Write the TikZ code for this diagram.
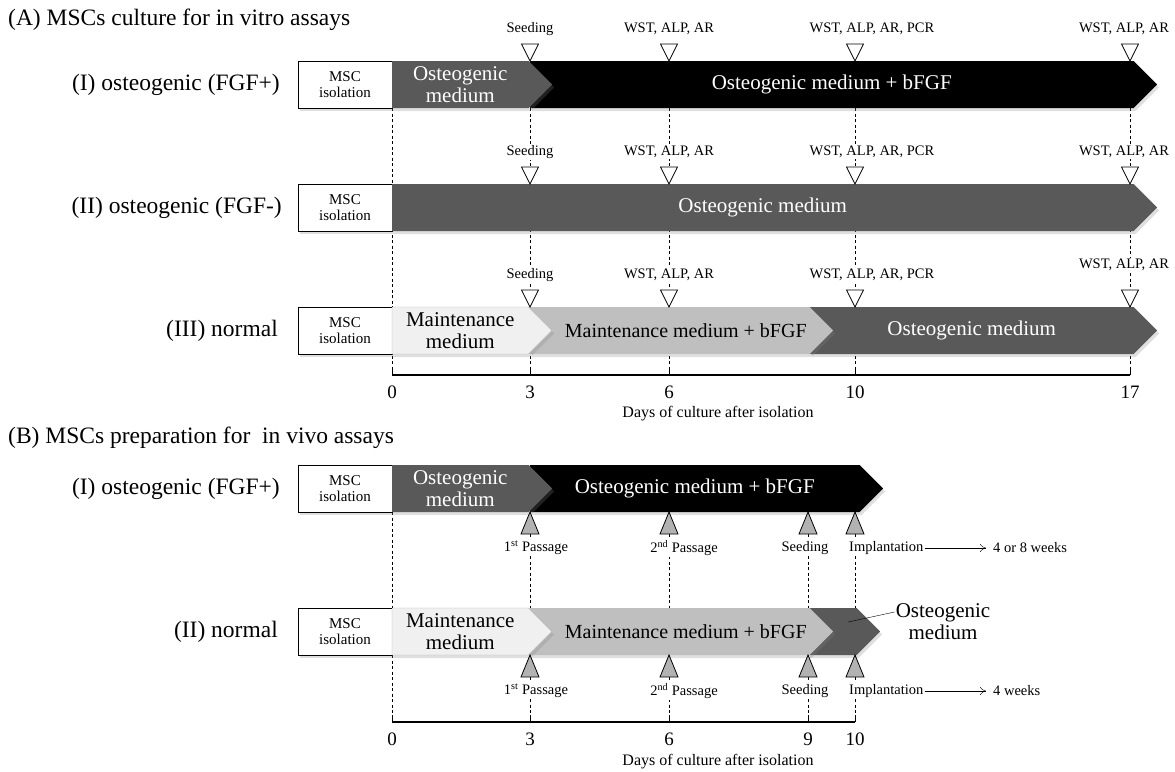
\documentclass[tikz,border=0pt]{standalone}
\usepackage{fontspec}
\setmainfont{Liberation Serif}
\usetikzlibrary{calc,positioning,shapes.symbols,shadows,arrows.meta}
\definecolor{darkbar}{RGB}{89,89,89}
\definecolor{midbar}{RGB}{191,191,191}
\definecolor{lightbar}{RGB}{240,240,240}
\definecolor{markgray}{RGB}{178,178,178}
\tikzset{
  heading/.style={anchor=west,inner sep=0pt,font=\fontsize{23.5}{27}\selectfont},
  rowname/.style={anchor=east,inner sep=0pt,font=\fontsize{23.5}{27}\selectfont},
  soft/.style={drop shadow={opacity=0.25,shadow xshift=2pt,shadow yshift=-3pt}},
  msc/.style={draw,fill=white,soft,minimum width=94pt,minimum height=47pt,inner sep=0pt,align=center,font=\fontsize{15}{16}\selectfont},
  bar/.style={signal,signal to=east,signal pointer angle=90,soft,minimum height=47pt,inner sep=0pt,align=center,font=\fontsize{21}{22}\selectfont},
  bartext/.style={inner sep=0pt,font=\fontsize{20}{22}\selectfont},
  event/.style={fill=white,inner sep=1pt,font=\fontsize{14.5}{16}\selectfont},
  dayno/.style={inner sep=0pt,font=\fontsize{19}{21}\selectfont},
  guide/.style={dash pattern=on 3pt off 2.5pt,line width=0.8pt},
}
\begin{document}
\begin{tikzpicture}[x=1pt,y=-1pt]
\useasboundingbox (0,0) rectangle (1175,771);

% (A) in vitro
\node[heading] (ta) at (8,20) {(A) MSCs culture for in vitro assays};
\foreach \d/\x in {0/392,3/530,6/669,10/855,17/1130} {
  \coordinate (ga\d) at (\x,108);
  \coordinate (xa\d) at (\x,375);
  \draw[guide] (ga\d) -- (xa\d);
  \draw[line width=1pt] (xa\d) -- ++(0,-7);
  \node[dayno] (na\d) at (\x,392) {\d};
}
\draw[line width=1.2pt] (xa0) -- (xa17);
\node[font=\fontsize{16}{18}\selectfont] (daysa) at (718,414) {Days of culture after isolation};

\node[rowname] (ra1) at (280,84.5) {(I) osteogenic (FGF+)};
\node[msc] (ma1) at (345,84.5) {MSC\\isolation};
\node[bar,fill=black,text=white,minimum width=627pt] (sa12) at (831.75,84.5) {Osteogenic medium + bFGF};
\node[bar,fill=darkbar,text=white,minimum width=160pt] (sa11) at (460.25,84.5) {Osteogenic\\medium};

\node[rowname] (ra2) at (282,207.5) {(II) osteogenic (FGF-)};
\node[msc] (ma2) at (345,207.5) {MSC\\isolation};
\node[bar,fill=darkbar,text=white,minimum width=765pt] (sa21) at (762.75,207.5) {Osteogenic medium};

\node[rowname] (ra3) at (278,330.5) {(III) normal};
\node[msc] (ma3) at (345,330.5) {MSC\\isolation};
\node[bar,fill=darkbar,text=white,minimum width=347pt] (sa33) at (971.75,330.5) {Osteogenic medium};
\node[bar,fill=midbar,minimum width=303pt] (sa32) at (669.75,330.5) {};
\node[bar,fill=lightbar,draw=gray!60,minimum width=160pt] (sa31) at (460.25,330.5) {Maintenance\\medium};
\node[bartext] (la32) at ($(sa32)+(16,0)$) {Maintenance medium + bFGF};

\foreach \r/\t/\l in {1/61/32,2/184/32,3/307/42} {
  \foreach \x in {530,669,855,1130}
    \draw[fill=white,line width=0.8pt] (\x-8.5,\t-17) -- (\x+8.5,\t-17) -- (\x,\t) -- cycle;
  \node[event] (ea\r1) at (530,\t-32) {Seeding};
  \node[event] (ea\r2) at (669,\t-32) {WST, ALP, AR};
  \node[event] (ea\r3) at (872,\t-32) {WST, ALP, AR, PCR};
  \node[event] (ea\r4) at (1124,\t-\l) {WST, ALP, AR};
}

% (B) in vivo
\node[heading] (tb) at (8,438) {(B) MSCs preparation for~ in vivo assays};
\foreach \d/\x in {0/392,3/530,6/669,9/808,10/855} {
  \coordinate (gb\d) at (\x,512);
  \coordinate (xb\d) at (\x,722);
  \draw[guide] (gb\d) -- (xb\d);
  \draw[line width=1pt] (xb\d) -- ++(0,-7);
  \node[dayno] (nb\d) at (\x,739) {\d};
}
\draw[line width=1.2pt] (xb0) -- (xb10);
\node[font=\fontsize{16}{18}\selectfont] (daysb) at (718,762) {Days of culture after isolation};

\node[rowname] (rb1) at (280,488.5) {(I) osteogenic (FGF+)};
\node[msc] (mb1) at (345,488.5) {MSC\\isolation};
\node[bar,fill=black,text=white,minimum width=353pt] (sb12) at (694.75,488.5) {Osteogenic medium + bFGF};
\node[bar,fill=darkbar,text=white,minimum width=160pt] (sb11) at (460.25,488.5) {Osteogenic\\medium};

\node[rowname] (rb2) at (278,631.5) {(II) normal};
\node[msc] (mb2) at (345,631.5) {MSC\\isolation};
\node[bar,fill=darkbar,minimum width=72pt] (sb23) at (832.25,631.5) {};
\node[bar,fill=midbar,minimum width=303pt] (sb22) at (669.75,631.5) {};
\node[bar,fill=lightbar,draw=gray!60,minimum width=160pt] (sb21) at (460.25,631.5) {Maintenance\\medium};
\node[bartext] (lb22) at ($(sb22)+(16,0)$) {Maintenance medium + bFGF};
\node[align=center,inner sep=1pt,font=\fontsize{21}{22}\selectfont] (ob) at (943,622) {Osteogenic\\medium};
\draw ($(sb23.center)+(16,-9.5)$) -- ($(ob.west)+(0,-10)$);

\foreach \r/\t/\w in {1/512/4 or 8 weeks,2/655/4 weeks} {
  \foreach \x in {530,669,808,855}
    \draw[fill=markgray,line width=0.8pt] (\x-9,\t+22) -- (\x+9,\t+22) -- (\x,\t) -- cycle;
  \node[event] (eb\r1) at (536,\t+36) {1\textsuperscript{st} Passage};
  \node[event] (eb\r2) at (684,\t+36) {2\textsuperscript{nd} Passage};
  \node[event] (eb\r3) at (805,\t+36) {Seeding};
  \node[event,anchor=west] (eb\r4) at (848,\t+36) {Implantation};
  \node[event,anchor=west] (wb\r) at (992,\t+36) {\w};
  \draw[-{To[length=6pt,width=8pt]},shorten >=6pt] (eb\r4) -- (wb\r);
}
\end{tikzpicture}
\end{document}
